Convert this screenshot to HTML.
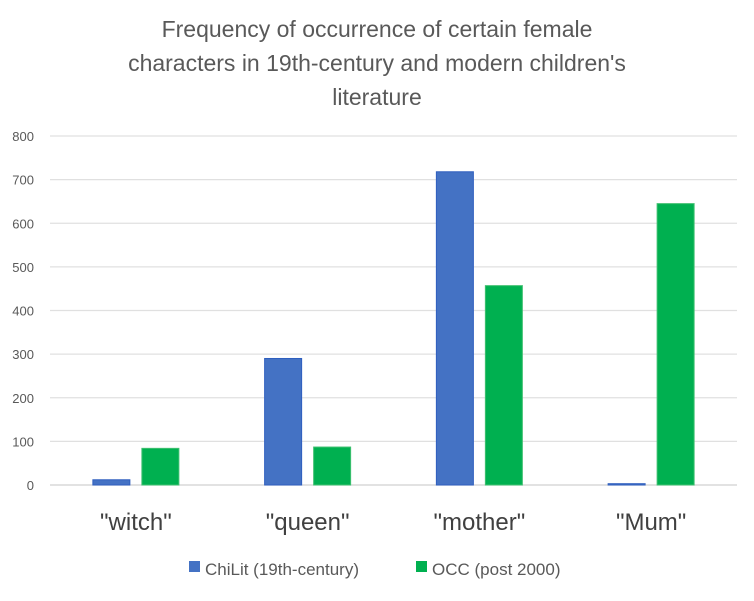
<!DOCTYPE html>
<html><head><meta charset="utf-8"><style>
body{margin:0;background:#fff;font-family:"Liberation Sans",sans-serif}
</style></head><body>
<svg id="chart" width="754" height="596" viewBox="0 0 754 596" xmlns="http://www.w3.org/2000/svg">
<g font-size="23" fill="#595959" text-anchor="middle">
<text x="377" y="37">Frequency of occurrence of certain female</text>
<text x="377" y="71">characters in 19th-century and modern children's</text>
<text x="377" y="105">literature</text>
</g>
<g id="grid"></g><g id="bars"></g><g id="labels"></g>
<g font-size="17" fill="#595959">
<rect x="189" y="561" width="11" height="11" fill="#4472C4"/>
<text x="205" y="575">ChiLit (19th-century)</text>
<rect x="416" y="561" width="11" height="11" fill="#00B050"/>
<text x="432" y="575">OCC (post 2000)</text>
</g>
</svg>
<script>
const categories=['"witch"','"queen"','"mother"','"Mum"'];
const chilit=[12,290,718,3];
const occ=[84,87,457,645];
const ticks=[0,100,200,300,400,500,600,700,800];
const NS="http://www.w3.org/2000/svg";
const x0=50,x1=737,y0=485,y1=136,ymax=800;
const Y=v=>y0-(v/ymax)*(y0-y1);
const band=(x1-x0)/categories.length;
function mk(tag,attrs,parent){const e=document.createElementNS(NS,tag);for(const k in attrs)e.setAttribute(k,attrs[k]);parent.appendChild(e);return e;}
const grid=document.getElementById('grid'),bars=document.getElementById('bars'),labels=document.getElementById('labels');
ticks.forEach(t=>{
 const l=mk('line',{x1:x0,x2:x1,y1:Y(t),y2:Y(t),stroke:t===0?'#d0d0d0':'#e0e0e0','stroke-width':1.3},grid);
 
 
 const tx=mk('text',{x:34,y:Y(t)+5,'text-anchor':'end','font-size':13,fill:'#595959'},grid);
 tx.textContent=t;
 
 
});
const bw=37;
categories.forEach((c,i)=>{
 const cx=x0+band*(i+0.5);
 const b1=mk('rect',{x:cx-43,y:Y(chilit[i]),width:bw,height:y0-Y(chilit[i]),fill:'#4472C4',stroke:'#2F5FBF','stroke-width':1},bars);
 
 
 const b2=mk('rect',{x:cx+6,y:Y(occ[i]),width:bw,height:y0-Y(occ[i]),fill:'#00B050',stroke:'#3fc070','stroke-width':1},bars);
 
 
 const t=mk('text',{x:cx,y:530,'text-anchor':'middle','font-size':24,fill:'#404040'},labels);
 t.textContent=c;
 
 
});
</script>
</body></html>
